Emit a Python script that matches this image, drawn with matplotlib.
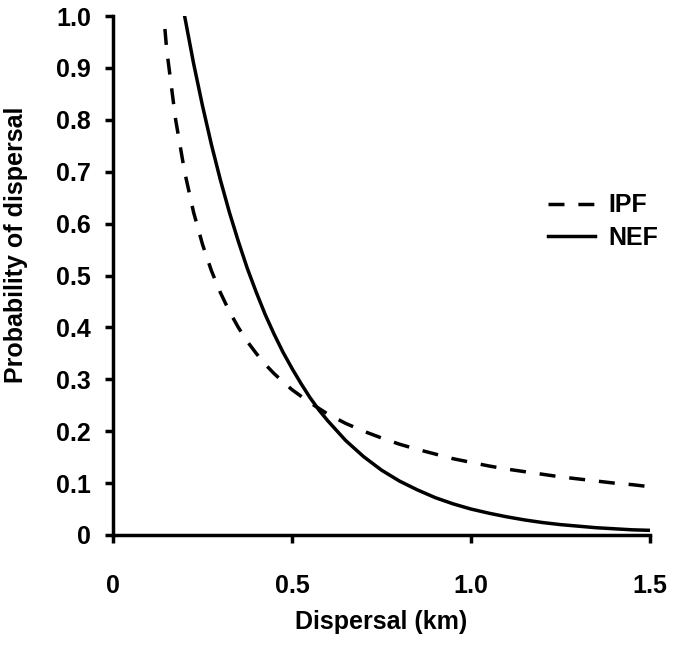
import matplotlib
matplotlib.use("Agg")
import matplotlib.pyplot as plt

# Values
ipf_x = [0.145, 0.15, 0.175, 0.2, 0.225, 0.25, 0.275, 0.3, 0.325, 0.35, 0.375, 0.4,
         0.425, 0.45, 0.475, 0.5, 0.55, 0.6, 0.65, 0.7, 0.75, 0.8, 0.85, 0.9, 0.95,
         1.0, 1.05, 1.1, 1.15, 1.2, 1.25, 1.3, 1.35, 1.4, 1.45, 1.5]
ipf_y = [0.975, 0.935, 0.80, 0.70, 0.622, 0.56, 0.509, 0.467, 0.431, 0.40, 0.373, 0.35,
         0.329, 0.311, 0.295, 0.28, 0.255, 0.233, 0.215, 0.20, 0.187, 0.175, 0.165, 0.156, 0.147,
         0.14, 0.133, 0.127, 0.122, 0.117, 0.112, 0.108, 0.104, 0.100, 0.097, 0.093]

nef_x = [0.2, 0.225, 0.25, 0.275, 0.3, 0.325, 0.35, 0.375, 0.4, 0.425, 0.45, 0.475,
         0.5, 0.525, 0.55, 0.575, 0.6, 0.65, 0.7, 0.75, 0.8, 0.85, 0.9, 0.95,
         1.0, 1.05, 1.1, 1.15, 1.2, 1.25, 1.3, 1.35, 1.4, 1.45, 1.5]
nef_y = [1.0, 0.909, 0.827, 0.752, 0.684, 0.622, 0.566, 0.514, 0.468, 0.425, 0.387, 0.352,
         0.321, 0.292, 0.265, 0.241, 0.22, 0.182, 0.151, 0.125, 0.104, 0.087, 0.072, 0.06,
         0.05, 0.042, 0.035, 0.029, 0.024, 0.020, 0.017, 0.014, 0.012, 0.010, 0.009]

x_ticks = [0, 0.5, 1.0, 1.5]
x_tick_labels = ["0", "0.5", "1.0", "1.5"]
y_ticks = [0, 0.1, 0.2, 0.3, 0.4, 0.5, 0.6, 0.7, 0.8, 0.9, 1.0]
y_tick_labels = ["0", "0.1", "0.2", "0.3", "0.4", "0.5", "0.6", "0.7", "0.8", "0.9", "1.0"]

plt.rcParams['font.family'] = ['Liberation Sans', 'DejaVu Sans']
plt.rcParams['font.weight'] = 'bold'

W, H = 677, 645
fig = plt.figure(figsize=(W / 100, H / 100), dpi=100)
ax = fig.add_axes([113 / W, 1 - 535 / H, (650 - 113) / W, (535 - 16) / H])

lw = 2.5
fs = 18
ax.plot(ipf_x, ipf_y, color="black", lw=lw, dashes=(4.6, 4.0), label="IPF",
        dash_capstyle="butt")
ax.plot(nef_x, nef_y, color="black", lw=lw, label="NEF")

ax.set_xlim(0, 1.5)
ax.set_ylim(0, 1.0)
ax.set_xticks(x_ticks)
ax.set_xticklabels(x_tick_labels)
ax.set_yticks(y_ticks)
ax.set_yticklabels(y_tick_labels)

for s in ["top", "right"]:
    ax.spines[s].set_visible(False)
for s in ["left", "bottom"]:
    ax.spines[s].set_linewidth(lw)

ax.tick_params(axis="both", direction="out", length=6, width=lw, labelsize=fs)
ax.tick_params(axis="x", pad=22)
ax.tick_params(axis="y", pad=10)
for lab in ax.get_xticklabels() + ax.get_yticklabels():
    lab.set_fontweight("bold")

ax.set_xlabel("Dispersal (km)", fontsize=fs, fontweight="bold", labelpad=9)
ax.set_ylabel("Probability of dispersal", fontsize=fs, fontweight="bold")
ax.yaxis.set_label_coords((28 - 113) / 537, (535 - 245) / 519)

leg = ax.legend(loc="center left", bbox_to_anchor=(0.81, 0.604), frameon=False,
                fontsize=fs, handlelength=1.9, handletextpad=0.5, labelspacing=0.33,
                borderaxespad=0, borderpad=0)
for t in leg.get_texts():
    t.set_fontweight("bold")

fig.savefig("out.png", dpi=100)
